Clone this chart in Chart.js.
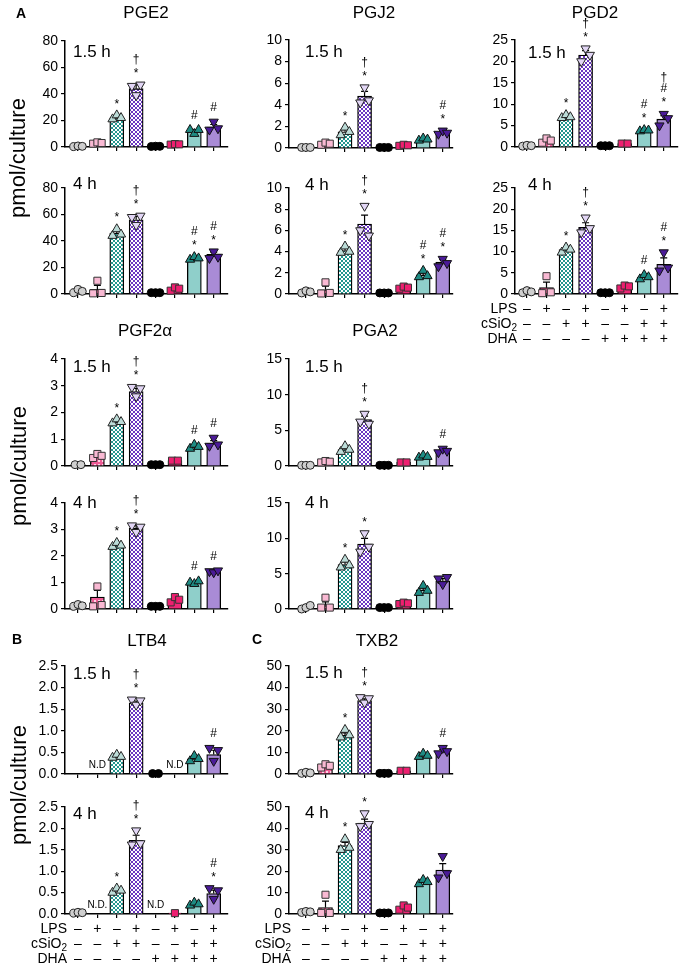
<!DOCTYPE html>
<html><head><meta charset="utf-8">
<script src="https://cdn.jsdelivr.net/npm/chart.js@4.4.1/dist/chart.umd.min.js"></script>
<style>
html,body{margin:0;padding:0;background:#fff;}
#fig{position:relative;width:679px;height:968px;overflow:hidden;font-family:"Liberation Sans",Arial,Helvetica,sans-serif;color:#000;}
#fig canvas{position:absolute;}
.t{position:absolute;white-space:nowrap;transform:translate(-50%,-50%);font-size:17px;}
.tl{position:absolute;white-space:nowrap;transform:translate(0,-50%);font-size:17px;}
.let{position:absolute;font-weight:bold;font-size:14px;transform:translate(-50%,-50%);}
.yl{position:absolute;font-size:22px;white-space:nowrap;transform:translate(-50%,-50%) rotate(-90deg);}
</style></head><body><div id="fig"></div>
<script>
// ---------- categories / sign table ----------
const GROUPS = ['Control','LPS','cSiO2','LPS+cSiO2','DHA','DHA+LPS','DHA+cSiO2','DHA+LPS+cSiO2'];
const ROW_LPS   = ['–','+','–','+','–','+','–','+'];
const ROW_CSIO2 = ['–','–','+','+','–','–','+','+'];
const ROW_DHA   = ['–','–','–','–','+','+','+','+'];

// ---------- tick values ----------
const TICKS_PGE2  = [0,20,40,60,80];
const TICKS_PGJ2  = [0,2,4,6,8,10];
const TICKS_PGD2  = [0,5,10,15,20,25];
const TICKS_PGF2A = [0,1,2,3,4];
const TICKS_PGA2  = [0,5,10,15];
const TICKS_LTB4  = [0,0.5,1,1.5,2,2.5];
const TICKS_TXB2  = [0,10,20,30,40,50];

// ---------- PGE2 ----------
const PGE2_15_MEAN = [0.5, 3, 22, 44, 0.5, 2, 12, 15];
const PGE2_15_ERR  = [0.2, 0.4, 1, 3, 0.1, 0.2, 1.2, 2];
const PGE2_15_PTS  = [[0.3,0.8,0.5],[2.5,3.5,3],[21,24,22],[46,39,47],[0.4,0.6,0.5],[1.8,2.2,2],[13,10,13],[13,19,14]];
const PGE2_15_SIG  = ['','','*','†*','','','#','#'];
const PGE2_4_MEAN  = [1.5, 3.5, 46, 56, 1, 4, 27, 30];
const PGE2_4_ERR   = [0.8, 3, 1.5, 2.5, 0.1, 1, 0.8, 1.5];
const PGE2_4_PTS   = [[1,3.5,2],[0.5,10,0.8],[44,49,45],[58,52,59],[1,1,1],[2.5,5,4],[26,28,27],[27,32,28]];
const PGE2_4_SIG   = ['','','*','†*','','','#*','#*'];

// ---------- PGJ2 ----------
const PGJ2_15_MEAN = [0.05, 0.4, 1.5, 4.8, 0.05, 0.25, 0.8, 1.4];
const PGJ2_15_ERR  = [0, 0.05, 0.2, 0.45, 0, 0.03, 0.05, 0.1];
const PGJ2_15_PTS  = [[0.05,0.05,0.05],[0.3,0.5,0.4],[1.2,1.9,1.5],[4.2,5.6,4.4],[0.05,0.05,0.05],[0.2,0.3,0.25],[0.7,0.9,0.8],[1.3,1.6,1.4]];
const PGJ2_15_SIG  = ['','','*','†*','','','','#*'];
const PGJ2_4_MEAN  = [0.2, 0.4, 4.1, 6.6, 0.1, 0.6, 1.8, 3.0];
const PGJ2_4_ERR   = [0.05, 0.35, 0.2, 0.85, 0, 0.05, 0.2, 0.25];
const PGJ2_4_PTS   = [[0.1,0.3,0.2],[0.05,1.1,0.1],[3.9,4.5,4.0],[6.0,8.3,5.5],[0.1,0.1,0.1],[0.5,0.7,0.6],[1.6,2.2,1.7],[2.6,3.3,2.9]];
const PGJ2_4_SIG   = ['','','*','†*','','','#*','#*'];

// ---------- PGD2 ----------
const PGD2_15_MEAN = [0.3, 1.5, 7, 21.5, 0.3, 0.8, 3.8, 6.5];
const PGD2_15_ERR  = [0.05, 0.3, 0.3, 1, 0, 0, 0.1, 0.8];
const PGD2_15_PTS  = [[0.2,0.4,0.3],[1,2,1.5],[6.8,7.5,7],[20,23,21.5],[0.3,0.3,0.3],[0.8,0.8],[3.7,4,3.9],[5,7.7,6.7]];
const PGD2_15_SIG  = ['','','*','†*','','','#*','†#*'];
const PGD2_4_MEAN  = [0.5, 1.5, 10.5, 15.7, 0.3, 1.7, 4.0, 7.0];
const PGD2_4_ERR   = [0.15, 1.3, 0.4, 1.1, 0, 0.2, 0.3, 1.5];
const PGD2_4_PTS   = [[0.3,0.8,0.5],[0.2,4.2,0.4],[9.8,11.0,10.5],[14.5,18,15.5],[0.3,0.3,0.3],[1.3,2.0,1.8],[3.5,4.5,4],[5.5,9.8,6.2]];
const PGD2_4_SIG   = ['','','*','†*','','','#','#*'];

// ---------- PGF2α ----------
const PGF2A_15_MEAN = [0.05, 0.38, 1.65, 2.78, 0.05, 0.2, 0.72, 0.85];
const PGF2A_15_ERR  = [0, 0.05, 0.05, 0.12, 0, 0, 0.05, 0.1];
const PGF2A_15_PTS  = [[0.05,0.05],[0.3,0.45,0.38],[1.6,1.75,1.65],[2.95,2.6,2.9],[0.05,0.05,0.05],[0.2,0.2],[0.65,0.8,0.72],[0.75,1.05,0.8]];
const PGF2A_15_SIG  = ['','','*','†*','','','#','#'];
const PGF2A_4_MEAN  = [0.12, 0.45, 2.4, 3.05, 0.1, 0.35, 1.0, 1.42];
const PGF2A_4_ERR   = [0.02, 0.25, 0.05, 0.1, 0, 0.06, 0.03, 0.02];
const PGF2A_4_PTS   = [[0.1,0.17,0.12],[0.1,0.85,0.15],[2.35,2.5,2.4],[3.15,2.9,3.1],[0.1,0.1,0.1],[0.25,0.45,0.35],[1.0,0.95,1.05],[1.42,1.38,1.45]];
const PGF2A_4_SIG   = ['','','*','†*','','','#','#'];

// ---------- PGA2 ----------
const PGA2_15_MEAN = [0.1, 0.6, 2.3, 6.5, 0.1, 0.5, 1.3, 2.1];
const PGA2_15_ERR  = [0, 0.06, 0.25, 0.5, 0, 0, 0.1, 0.15];
const PGA2_15_PTS  = [[0.1,0.1,0.1],[0.5,0.7,0.6],[2.0,2.8,2.3],[6.2,7.3,5.9],[0.1,0.1,0.1],[0.5,0.5],[1.2,1.5,1.3],[1.9,2.4,2.1]];
const PGA2_15_SIG  = ['','','','†*','','','','#'];
const PGA2_4_MEAN  = [0.2, 0.5, 6.3, 9.2, 0.2, 0.8, 2.7, 4.0];
const PGA2_4_ERR   = [0.15, 0.5, 0.35, 0.8, 0, 0.05, 0.3, 0.3];
const PGA2_4_PTS   = [[0.0,0.2,0.5],[0.2,1.6,0.2],[5.9,7.0,6.2],[8.1,10.7,8.8],[0.2,0.2,0.2],[0.7,0.9,0.8],[2.3,3.3,2.6],[4.3,3.5,4.5]];
const PGA2_4_SIG   = ['','','*','*','','','',''];

// ---------- LTB4 (null = not detected) ----------
const LTB4_15_MEAN = [null, null, 0.4, 1.65, 0.01, null, 0.35, 0.45];
const LTB4_15_ERR  = [0, 0, 0.03, 0.04, 0, 0, 0.04, 0.1];
const LTB4_15_PTS  = [[],[],[0.38,0.45,0.4],[1.72,1.6,1.7],[0.01,0.01],[],[0.3,0.42,0.35],[0.6,0.3,0.55]];
const LTB4_15_SIG  = ['','','','†*','','','','#'];
const LTB4_15_ND   = ['','N.D','','','','N.D','',''];
const LTB4_4_MEAN  = [0.03, null, 0.55, 1.72, null, 0.02, 0.23, 0.48];
const LTB4_4_ERR   = [0.01, 0, 0.03, 0.12, 0, 0, 0.02, 0.08];
const LTB4_4_PTS   = [[0.02,0.04,0.03],[],[0.5,0.6,0.55],[1.62,1.95,1.65],[],[0.02],[0.2,0.27,0.23],[0.6,0.35,0.55]];
const LTB4_4_SIG   = ['','','*','†*','','','','#*'];
const LTB4_4_ND    = ['','N.D.','','','N.D','','',''];

// ---------- TXB2 ----------
const TXB2_15_MEAN = [0.5, 3.8, 18, 34, 0.3, 1.5, 8.5, 10.5];
const TXB2_15_ERR  = [0.2, 0.5, 1, 0.8, 0, 0, 0.5, 0.8];
const TXB2_15_PTS  = [[0.3,0.8,0.5],[3,4.5,3.8],[17,20.5,18],[35.5,33,35],[0.3,0.3,0.3],[1.5,1.5],[8,9.5,8.5],[9.5,12,10.5]];
const TXB2_15_SIG  = ['','','*','†*','','','','#'];
const TXB2_4_MEAN  = [1, 3, 32, 42.5, 0.5, 3, 15, 20.5];
const TXB2_4_ERR   = [0.2, 3, 1.5, 1.8, 0, 0.6, 0.6, 3];
const TXB2_4_PTS   = [[0.7,1.2,1],[0.5,9,0.5],[30,35,31],[41,47,42],[0.5,0.5,0.5],[2,4,3],[14,16,15],[17,27,19]];
const TXB2_4_SIG   = ['','','*','*','','','',''];

// ---------- layout / style ----------
const FONT = '"Liberation Sans", Arial, Helvetica, sans-serif';
Chart.defaults.font.family = FONT;
Chart.defaults.color = '#000';
const COLS = {
  1: {axisX: 65,  spacing: 19.4, first: 13, end: 14, tdx: 8},
  2: {axisX: 289, spacing: 19.6, first: 17, end: 10, tdx: 16},
  3: {axisX: 515, spacing: 19.6, first: 12, end: 14, tdx: 13}
};
const MARK = [
  {shape:'circle',   rot:0,   r:4,   fill:'#cfcfcf', line:'#222'},
  {shape:'rect',     rot:0,   r:5,   fill:'#f9b9d3', line:'#333'},
  {shape:'triangle', rot:0,   r:5.3, fill:'#bcdcd8', line:'#222'},
  {shape:'triangle', rot:180, r:5.3, fill:'#e2d6f5', line:'#222'},
  {shape:'circle',   rot:0,   r:4,   fill:'#000000', line:'#000'},
  {shape:'rect',     rot:0,   r:5,   fill:'#ee1f70', line:'#333'},
  {shape:'triangle', rot:0,   r:5.3, fill:'#1e8c84', line:'#111'},
  {shape:'triangle', rot:180, r:5.3, fill:'#4b1b98', line:'#111'}
];
const JITTER = {1:[0], 2:[-0.15,0.15], 3:[-0.22,0,0.22]};

const PANELS = [
  {mean:PGE2_15_MEAN, err:PGE2_15_ERR, pts:PGE2_15_PTS, sig:PGE2_15_SIG, ticks:TICKS_PGE2, dec:0, col:1, top:41, zero:147, tl:'1.5 h', ty:52},
  {mean:PGE2_4_MEAN,  err:PGE2_4_ERR,  pts:PGE2_4_PTS,  sig:PGE2_4_SIG,  ticks:TICKS_PGE2, dec:0, col:1, top:188, zero:294, tl:'4 h', ty:184},
  {mean:PGJ2_15_MEAN, err:PGJ2_15_ERR, pts:PGJ2_15_PTS, sig:PGJ2_15_SIG, ticks:TICKS_PGJ2, dec:0, col:2, top:40, zero:148, tl:'1.5 h', ty:52},
  {mean:PGJ2_4_MEAN,  err:PGJ2_4_ERR,  pts:PGJ2_4_PTS,  sig:PGJ2_4_SIG,  ticks:TICKS_PGJ2, dec:0, col:2, top:188, zero:294, tl:'4 h', ty:185},
  {mean:PGD2_15_MEAN, err:PGD2_15_ERR, pts:PGD2_15_PTS, sig:PGD2_15_SIG, ticks:TICKS_PGD2, dec:0, col:3, top:40, zero:147, tl:'1.5 h', ty:53},
  {mean:PGD2_4_MEAN,  err:PGD2_4_ERR,  pts:PGD2_4_PTS,  sig:PGD2_4_SIG,  ticks:TICKS_PGD2, dec:0, col:3, top:188, zero:294, tl:'4 h', ty:185, table:true},
  {mean:PGF2A_15_MEAN, err:PGF2A_15_ERR, pts:PGF2A_15_PTS, sig:PGF2A_15_SIG, ticks:TICKS_PGF2A, dec:0, col:1, top:359, zero:466, tl:'1.5 h', ty:367},
  {mean:PGF2A_4_MEAN,  err:PGF2A_4_ERR,  pts:PGF2A_4_PTS,  sig:PGF2A_4_SIG,  ticks:TICKS_PGF2A, dec:0, col:1, top:503, zero:609, tl:'4 h', ty:503},
  {mean:PGA2_15_MEAN, err:PGA2_15_ERR, pts:PGA2_15_PTS, sig:PGA2_15_SIG, ticks:TICKS_PGA2, dec:0, col:2, top:359, zero:466, tl:'1.5 h', ty:367},
  {mean:PGA2_4_MEAN,  err:PGA2_4_ERR,  pts:PGA2_4_PTS,  sig:PGA2_4_SIG,  ticks:TICKS_PGA2, dec:0, col:2, top:503, zero:609, tl:'4 h', ty:503},
  {mean:LTB4_15_MEAN, err:LTB4_15_ERR, pts:LTB4_15_PTS, sig:LTB4_15_SIG, nd:LTB4_15_ND, ticks:TICKS_LTB4, dec:1, col:1, top:666, zero:774, tl:'1.5 h', ty:674},
  {mean:LTB4_4_MEAN,  err:LTB4_4_ERR,  pts:LTB4_4_PTS,  sig:LTB4_4_SIG,  nd:LTB4_4_ND,  ticks:TICKS_LTB4, dec:1, col:1, top:807, zero:914, tl:'4 h', ty:814, table:true},
  {mean:TXB2_15_MEAN, err:TXB2_15_ERR, pts:TXB2_15_PTS, sig:TXB2_15_SIG, ticks:TICKS_TXB2, dec:0, col:2, top:666, zero:774, tl:'1.5 h', ty:673},
  {mean:TXB2_4_MEAN,  err:TXB2_4_ERR,  pts:TXB2_4_PTS,  sig:TXB2_4_SIG,  ticks:TICKS_TXB2, dec:0, col:2, top:807, zero:914, tl:'4 h', ty:813, table:true}
];
const TITLES = [
  {text:'PGE2', x:146, y:13}, {text:'PGJ2', x:374, y:13}, {text:'PGD2', x:595, y:13},
  {text:'PGF2α', x:145, y:331}, {text:'PGA2', x:375, y:331},
  {text:'LTB4', x:147, y:641}, {text:'TXB2', x:377, y:641}
];
const LETTERS = [{text:'A', x:21, y:13}, {text:'B', x:17, y:639}, {text:'C', x:257, y:639}];
const YLABELS = [{x:18, y:158}, {x:19, y:466}, {x:19, y:785}];

// ---------- fills ----------
function makeFills(ctx) {
  function tile(n, draw) {
    const c = document.createElement('canvas'); c.width = c.height = n;
    draw(c.getContext('2d')); return ctx.createPattern(c, 'repeat');
  }
  const checker = (a, b) => tile(4, g => { g.fillStyle = b; g.fillRect(0,0,4,4); g.fillStyle = a; g.fillRect(0,0,2,2); g.fillRect(2,2,2,2); });
  const lps = tile(4, g => { g.fillStyle = '#ee5c96'; g.fillRect(0,0,4,4); g.fillStyle = '#ffd3e4'; g.fillRect(1,1,2,2); });
  return ['#e2e2e2', lps, checker('#23978f','#ffffff'), checker('#6b36c2','#ffffff'),
          '#000000', '#ee2676', '#8fcfca', '#a98bd6'];
}

const fig = document.getElementById('fig');

function makePanel(p) {
  const col = COLS[p.col];
  const LW = 52, PT = 40, PR = 6, XH = 5;
  const PB = p.table ? 62 : 10;
  const xmin = -col.first / col.spacing, xmax = 7 + col.end / col.spacing;
  const plotW = Math.round((xmax - xmin) * col.spacing);
  const plotH = p.zero - p.top;
  const W = LW + plotW + PR, H = PT + plotH + XH + PB;
  const cv = document.createElement('canvas');
  cv.width = W; cv.height = H; cv.style.width = W + 'px'; cv.style.height = H + 'px';
  cv.style.left = (col.axisX - LW) + 'px'; cv.style.top = (p.top - PT) + 'px';
  fig.appendChild(cv);
  const ctx = cv.getContext('2d');
  const fills = makeFills(ctx);
  const present = [];
  p.mean.forEach((v, i) => { if (v != null) present.push(i); });
  const datasets = [{
    type: 'bar', label: 'mean',
    data: present.map(i => ({x: i, y: p.mean[i]})),
    backgroundColor: present.map(i => fills[i]),
    borderColor: '#000', borderWidth: 1.3, borderSkipped: 'start',
    barThickness: 14, order: 2
  }];
  p.pts.forEach((arr, i) => {
    if (!arr.length) return;
    const m = MARK[i], jit = JITTER[arr.length];
    datasets.push({
      type: 'scatter', label: GROUPS[i],
      data: arr.map((v, k) => ({x: i + jit[k], y: v})),
      pointStyle: m.shape, rotation: m.rot, pointRadius: m.r,
      pointBackgroundColor: m.fill, pointBorderColor: m.line, pointBorderWidth: 1,
      order: 1, clip: false
    });
  });
  const overlay = {
    id: 'overlay',
    afterDatasetDraw(chart, args) {
      if (args.index !== 0) return;
      const y = chart.scales.y, g = chart.ctx;
      g.save(); g.strokeStyle = '#000'; g.lineWidth = 1.2;
      args.meta.data.forEach((el, j) => {
        const i = present[j], e = p.err[i];
        if (!e) return;
        const y0 = y.getPixelForValue(p.mean[i]), y1 = y.getPixelForValue(p.mean[i] + e);
        g.beginPath(); g.moveTo(el.x, y0); g.lineTo(el.x, y1);
        g.moveTo(el.x - 3.5, y1); g.lineTo(el.x + 3.5, y1); g.stroke();
      });
      g.restore();
    },
    afterDatasetsDraw(chart) {
      const g = chart.ctx, x = chart.scales.x, y = chart.scales.y;
      g.save(); g.fillStyle = '#000'; g.textAlign = 'center'; g.textBaseline = 'middle';
      p.sig.forEach((s, i) => {
        if (!s) return;
        const top = Math.max((p.mean[i] || 0) + (p.err[i] || 0), ...p.pts[i]);
        let py = y.getPixelForValue(top) - 14;
        const px = x.getPixelForValue(i);
        Array.from(s).reverse().forEach(ch => {
          g.font = '12px ' + FONT;
          g.fillText(ch, px, py + (ch === '*' ? 3 : 0));
          py -= 11;
        });
      });
      if (p.nd) {
        g.font = '10px ' + FONT;
        p.nd.forEach((s, i) => { if (s) g.fillText(s, x.getPixelForValue(i), y.getPixelForValue(0) - 9); });
      }
      if (p.table) {
        const base = y.getPixelForValue(0), right = chart.chartArea.left + 2;
        const rows = [[ROW_LPS, 15.5], [ROW_CSIO2, 30], [ROW_DHA, 45]];
        rows.forEach(([signs, dy], k) => {
          const ry = base + dy;
          g.font = '14px ' + FONT; g.textAlign = 'center';
          signs.forEach((s, i) => g.fillText(s, x.getPixelForValue(i), ry));
          g.textAlign = 'right';
          if (k === 0) g.fillText('LPS', right, ry);
          else if (k === 2) g.fillText('DHA', right, ry);
          else {
            g.font = '10px ' + FONT;
            const w2 = g.measureText('2').width;
            g.fillText('2', right, ry + 4);
            g.font = '14px ' + FONT;
            g.fillText('cSiO', right - w2, ry);
          }
        });
      }
      g.restore();
    }
  };
  new Chart(ctx, {
    type: 'bar',
    data: {datasets},
    options: {
      responsive: false, animation: false, events: [],
      layout: {padding: {left: 0, top: PT, right: PR, bottom: PB}},
      plugins: {legend: {display: false}, tooltip: {enabled: false}},
      scales: {
        x: {
          type: 'linear', min: xmin, max: xmax, offset: false,
          afterBuildTicks: s => { s.ticks = GROUPS.map((_, i) => ({value: i})); },
          afterFit: s => { s.height = XH; },
          ticks: {display: false},
          grid: {drawOnChartArea: false, drawTicks: true, tickLength: 4, color: '#000', lineWidth: 1.2, offset: false},
          border: {display: true, color: '#000', width: 1.5}
        },
        y: {
          type: 'linear', min: 0, max: p.ticks[p.ticks.length - 1],
          afterBuildTicks: s => { s.ticks = p.ticks.map(v => ({value: v})); },
          afterFit: s => { s.width = LW; },
          ticks: {font: {size: 14}, color: '#000', padding: 3, callback: v => Number(v).toFixed(p.dec)},
          grid: {drawOnChartArea: false, drawTicks: true, tickLength: 4, color: '#000', lineWidth: 1.2},
          border: {display: true, color: '#000', width: 1.5}
        }
      }
    },
    plugins: [overlay]
  });
  const t = document.createElement('div');
  t.className = 'tl'; t.textContent = p.tl;
  t.style.left = (col.axisX + col.tdx) + 'px'; t.style.top = p.ty + 'px';
  fig.appendChild(t);
}

PANELS.forEach(makePanel);
TITLES.forEach(o => { const d = document.createElement('div'); d.className = 't'; d.textContent = o.text; d.style.left = o.x + 'px'; d.style.top = o.y + 'px'; fig.appendChild(d); });
LETTERS.forEach(o => { const d = document.createElement('div'); d.className = 'let'; d.textContent = o.text; d.style.left = o.x + 'px'; d.style.top = o.y + 'px'; fig.appendChild(d); });
YLABELS.forEach(o => { const d = document.createElement('div'); d.className = 'yl'; d.textContent = 'pmol/culture'; d.style.left = o.x + 'px'; d.style.top = o.y + 'px'; fig.appendChild(d); });
</script></body></html>
